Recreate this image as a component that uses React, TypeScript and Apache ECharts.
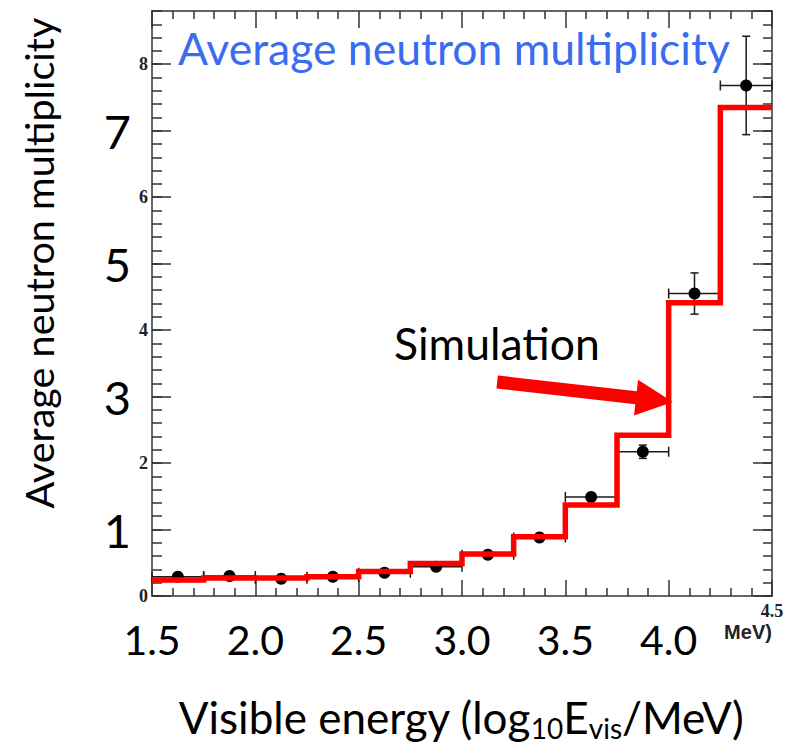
import React, { useEffect, useRef } from "react";
import * as echarts from "echarts";

// ---- data ----
const binEdges = [1.5, 1.75, 2.0, 2.25, 2.5, 2.75, 3.0, 3.25, 3.5, 3.75, 4.0, 4.25, 4.5];
const simValues = [0.24, 0.27, 0.27, 0.29, 0.37, 0.49, 0.63, 0.89, 1.37, 2.42, 4.41, 7.35];
const dataX = [1.625, 1.875, 2.125, 2.375, 2.625, 2.875, 3.125, 3.375, 3.625, 3.875, 4.125, 4.375];
const dataY = [0.29, 0.3, 0.26, 0.29, 0.35, 0.44, 0.62, 0.88, 1.49, 2.17, 4.55, 7.68];
const dataXErr = [0.125, 0.125, 0.125, 0.125, 0.125, 0.125, 0.125, 0.125, 0.125, 0.125, 0.125, 0.125];
const dataYErr = [0.02, 0.02, 0.02, 0.02, 0.03, 0.03, 0.04, 0.05, 0.07, 0.1, 0.31, 0.74];

const xBigTickLabels = ["1.5", "2.0", "2.5", "3.0", "3.5", "4.0"];
const xSmallTickLabels = ["4.5"];
const ySmallTickLabels = ["0", "2", "4", "6", "8"];
const yBigTickLabels = ["1", "3", "5", "7"];

const arrowTail = [3.17, 3.22];
const arrowTip = [4.02, 2.92];

const FONT = "Lato";
const FRAME = "#333";

export default function App() {
  const ref = useRef<HTMLDivElement>(null);

  useEffect(() => {
    document.body.style.margin = "0";
    const chart = echarts.init(ref.current!, null, { renderer: "svg" });

    const stepData: number[][] = [];
    simValues.forEach((v, i) => {
      stepData.push([binEdges[i], v]);
      stepData.push([binEdges[i + 1], v]);
    });
    const pointData = dataX.map((x, i) => [x, dataY[i], dataXErr[i], dataYErr[i]]);

    const fmtX = (v: number) => (xBigTickLabels.includes(v.toFixed(1)) ? v.toFixed(1) : "");
    const near = (v: number, list: string[]) => list.find((s) => Math.abs(Number(s) - v) < 1e-6) ?? "";

    const baseX = { type: "value", min: 1.5, max: 4.5, interval: 0.5, splitLine: { show: false } };
    const baseY = { type: "value", min: 0, max: 8.8, splitLine: { show: false } };
    const line = { show: true, onZero: false, lineStyle: { color: FRAME, width: 1.5 } };
    const noLine = { show: false, onZero: false };

    chart.setOption({
      animation: false,
      grid: { left: 152, right: 20, top: 11, bottom: 148, containLabel: false },
      xAxis: [
        {
          ...baseX,
          position: "bottom",
          axisLine: line,
          axisTick: { show: true, inside: true, length: 16, lineStyle: { color: FRAME, width: 1.5 } },
          minorTick: { show: true, splitNumber: 5, length: 8, lineStyle: { color: FRAME, width: 1.5 } },
          axisLabel: {
            formatter: fmtX,
            fontFamily: FONT,
            fontSize: 41,
            color: "#000",
            margin: 43,
            verticalAlign: "middle",
            showMaxLabel: true,
            showMinLabel: true,
          },
        },
        {
          ...baseX,
          position: "bottom",
          axisLine: noLine,
          axisTick: { show: false },
          axisLabel: {
            formatter: (v: number) => near(v, xSmallTickLabels),
            fontFamily: "Liberation Serif",
            fontWeight: "bold",
            fontSize: 18,
            color: "#222",
            margin: 15,
            verticalAlign: "middle",
            showMaxLabel: true,
          },
        },
        {
          ...baseX,
          position: "top",
          axisLine: line,
          axisTick: { show: true, inside: true, length: 17, lineStyle: { color: FRAME, width: 1.5 } },
          minorTick: { show: true, splitNumber: 5, length: 8, lineStyle: { color: FRAME, width: 1.5 } },
          axisLabel: { show: false },
        },
      ],
      yAxis: [
        {
          ...baseY,
          interval: 1,
          position: "left",
          axisLine: line,
          axisTick: { show: true, inside: true, length: 19, lineStyle: { color: FRAME, width: 1.5 } },
          axisLabel: {
            formatter: (v: number) => near(v, ySmallTickLabels),
            fontFamily: "Liberation Serif",
            fontWeight: "bold",
            fontSize: 18,
            color: "#222",
            margin: 4,
            showMaxLabel: false,
          },
        },
        {
          ...baseY,
          interval: 0.2,
          position: "left",
          axisLine: noLine,
          axisTick: { show: true, inside: true, length: 10, lineStyle: { color: FRAME, width: 1.5 } },
          axisLabel: { show: false },
        },
        {
          ...baseY,
          interval: 1,
          position: "left",
          axisLine: noLine,
          axisTick: { show: false },
          axisLabel: {
            formatter: (v: number) => near(v, yBigTickLabels),
            fontFamily: FONT,
            fontSize: 47,
            color: "#000",
            margin: 21,
            showMaxLabel: false,
          },
        },
        {
          ...baseY,
          interval: 1,
          position: "right",
          axisLine: line,
          axisTick: { show: true, inside: true, length: 19, lineStyle: { color: FRAME, width: 1.5 } },
          axisLabel: { show: false },
        },
        {
          ...baseY,
          interval: 0.2,
          position: "right",
          axisLine: noLine,
          axisTick: { show: true, inside: true, length: 9, lineStyle: { color: FRAME, width: 1.5 } },
          axisLabel: { show: false },
        },
      ],
      series: [
        {
          type: "custom",
          name: "Data",
          xAxisIndex: 0,
          yAxisIndex: 0,
          data: pointData,
          z: 2,
          renderItem: (params: any, api: any) => {
            const x = api.value(0);
            const y = api.value(1);
            const xe = api.value(2);
            const ye = api.value(3);
            const c = api.coord([x, y]);
            const l = api.coord([x - xe, y]);
            const r = api.coord([x + xe, y]);
            const t = api.coord([x, y + ye]);
            const b = api.coord([x, y - ye]);
            const st = { stroke: "#1a1a1a", lineWidth: 1.5, fill: "none" };
            const children: any[] = [
              { type: "line", shape: { x1: l[0], y1: l[1], x2: r[0], y2: r[1] }, style: st },
              { type: "line", shape: { x1: l[0], y1: l[1] - 5, x2: l[0], y2: l[1] + 5 }, style: st },
              { type: "line", shape: { x1: r[0], y1: r[1] - 5, x2: r[0], y2: r[1] + 5 }, style: st },
            ];
            if (b[1] - t[1] > 10) {
              children.push(
                { type: "line", shape: { x1: t[0], y1: t[1], x2: b[0], y2: b[1] }, style: st },
                { type: "line", shape: { x1: t[0] - 4, y1: t[1], x2: t[0] + 4, y2: t[1] }, style: st },
                { type: "line", shape: { x1: b[0] - 4, y1: b[1], x2: b[0] + 4, y2: b[1] }, style: st }
              );
            }
            children.push({ type: "circle", shape: { cx: c[0], cy: c[1], r: 6 }, style: { fill: "#000" } });
            return { type: "group", children };
          },
        },
        {
          type: "line",
          name: "Simulation",
          xAxisIndex: 0,
          yAxisIndex: 0,
          data: stepData,
          showSymbol: false,
          symbol: "none",
          z: 3,
          lineStyle: { color: "#ff0000", width: 5.5, join: "miter", cap: "butt" },
        },
      ],
    });

    const tip = chart.convertToPixel({ xAxisIndex: 0, yAxisIndex: 0 }, arrowTip) as number[];
    const tail = chart.convertToPixel({ xAxisIndex: 0, yAxisIndex: 0 }, arrowTail) as number[];
    const dx = tip[0] - tail[0];
    const dy = tip[1] - tail[1];
    const len = Math.hypot(dx, dy);
    const ux = dx / len, uy = dy / len;
    const nx = -uy, ny = ux;
    const headLen = 37, headHalf = 18, shaftHalf = 6.5;
    const bx = tip[0] - ux * headLen, by = tip[1] - uy * headLen;
    const arrowPts = [
      [tail[0] + nx * shaftHalf, tail[1] + ny * shaftHalf],
      [bx + nx * shaftHalf, by + ny * shaftHalf],
      [bx + nx * headHalf, by + ny * headHalf],
      [tip[0], tip[1]],
      [bx - nx * headHalf, by - ny * headHalf],
      [bx - nx * shaftHalf, by - ny * shaftHalf],
      [tail[0] - nx * shaftHalf, tail[1] - ny * shaftHalf],
    ];

    chart.setOption({
      graphic: [
        {
          type: "text",
          left: 178,
          top: 25,
          style: { text: "Average neutron multiplicity", fontFamily: FONT, fontSize: 44.5, fill: "#3a6cf0" },
          z: 10,
        },
        {
          type: "text",
          x: 394,
          y: 342,
          style: {
            text: "Simulation",
            fontFamily: FONT,
            fontSize: 44.5,
            fill: "#000",
            align: "left",
            verticalAlign: "middle",
          },
          z: 10,
        },
        { type: "polygon", shape: { points: arrowPts }, style: { fill: "#ff0000" }, z: 10 },
        {
          type: "text",
          x: 38,
          y: 263,
          rotation: Math.PI / 2,
          style: {
            text: "Average neutron multiplicity",
            fontFamily: FONT,
            fontSize: 39.6,
            fill: "#000",
            align: "center",
            verticalAlign: "middle",
          },
          z: 10,
        },
        {
          type: "text",
          x: 461,
          y: 717,
          style: {
            text: "{n|Visible energy (log}{s|10}{n|E}{s|vis}{n|/MeV)}",
            align: "center",
            verticalAlign: "middle",
            rich: {
              n: { fontFamily: FONT, fontSize: 44, fill: "#000", lineHeight: 50 },
              s: { fontFamily: FONT, fontSize: 28, fill: "#000", lineHeight: 28, verticalAlign: "bottom", padding: [14, 0, 0, 0] },
            },
          },
          z: 10,
        },
        {
          type: "text",
          x: 748,
          y: 632,
          style: {
            text: "MeV)",
            fontFamily: "Liberation Sans",
            fontWeight: "bold",
            fontSize: 20,
            fill: "#222",
            align: "center",
            verticalAlign: "middle",
          },
          z: 10,
        },
      ],
    });

    return () => chart.dispose();
  }, []);

  return <div ref={ref} style={{ position: "fixed", left: 0, top: 0, width: 792, height: 744, background: "#fff" }} />;
}
